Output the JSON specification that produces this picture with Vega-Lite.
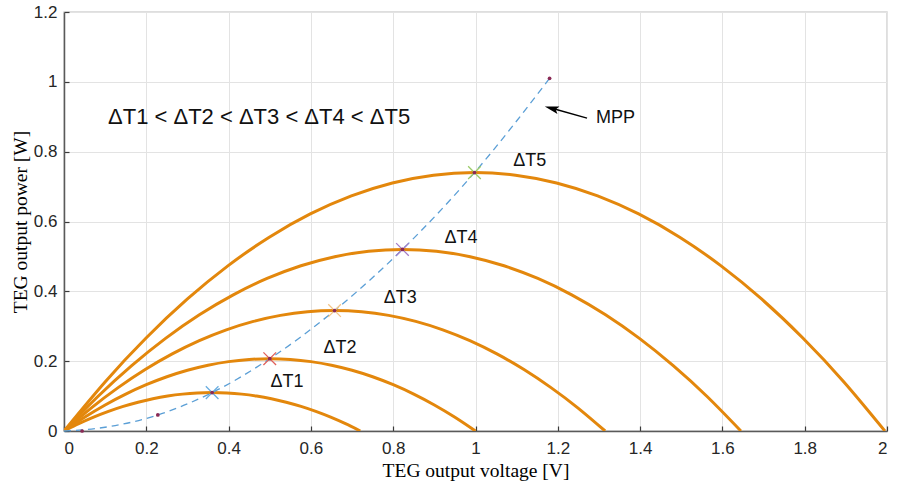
{
  "$schema": "https://vega.github.io/schema/vega-lite/v6.json",
  "width": 823,
  "height": 419,
  "autosize": {"type": "none"},
  "padding": {"left": 64, "top": 12, "right": 12, "bottom": 60},
  "background": "white",
  "config": {
    "view": {"stroke": "#d4d4d4", "strokeWidth": 1.5},
    "axis": {
      "labelFont": "Liberation Sans",
      "labelFontSize": 17,
      "labelColor": "#262626",
      "titleFont": "Liberation Serif",
      "titleFontSize": 19.5,
      "titleFontWeight": "normal",
      "titleColor": "#000000",
      "gridColor": "#e3e3e3",
      "gridWidth": 1,
      "domainColor": "#5a5a5a",
      "domainWidth": 1.5,
      "tickColor": "#3a3a3a",
      "tickWidth": 1.2
    }
  },
  "datasets": {
    "curves": [
      {"c": "T1", "v": 0, "p": 0}, {"c": "T1", "v": 0.036, "p": 0.0209}, {"c": "T1", "v": 0.072, "p": 0.0396}, {"c": "T1", "v": 0.108, "p": 0.0561}, {"c": "T1", "v": 0.144, "p": 0.0704}, {"c": "T1", "v": 0.18, "p": 0.0825}, {"c": "T1", "v": 0.216, "p": 0.0924}, {"c": "T1", "v": 0.252, "p": 0.1001}, {"c": "T1", "v": 0.288, "p": 0.1056}, {"c": "T1", "v": 0.324, "p": 0.1089}, {"c": "T1", "v": 0.36, "p": 0.11}, {"c": "T1", "v": 0.396, "p": 0.1089}, {"c": "T1", "v": 0.432, "p": 0.1056}, {"c": "T1", "v": 0.468, "p": 0.1001}, {"c": "T1", "v": 0.504, "p": 0.0924}, {"c": "T1", "v": 0.54, "p": 0.0825}, {"c": "T1", "v": 0.576, "p": 0.0704}, {"c": "T1", "v": 0.612, "p": 0.0561}, {"c": "T1", "v": 0.648, "p": 0.0396}, {"c": "T1", "v": 0.684, "p": 0.0209}, {"c": "T1", "v": 0.72, "p": 0},
      {"c": "T2", "v": 0, "p": 0}, {"c": "T2", "v": 0.05, "p": 0.0393}, {"c": "T2", "v": 0.1, "p": 0.0745}, {"c": "T2", "v": 0.15, "p": 0.1056}, {"c": "T2", "v": 0.2, "p": 0.1325}, {"c": "T2", "v": 0.25, "p": 0.1553}, {"c": "T2", "v": 0.3, "p": 0.1739}, {"c": "T2", "v": 0.35, "p": 0.1884}, {"c": "T2", "v": 0.4, "p": 0.1987}, {"c": "T2", "v": 0.45, "p": 0.2049}, {"c": "T2", "v": 0.5, "p": 0.207}, {"c": "T2", "v": 0.55, "p": 0.2049}, {"c": "T2", "v": 0.6, "p": 0.1987}, {"c": "T2", "v": 0.65, "p": 0.1884}, {"c": "T2", "v": 0.7, "p": 0.1739}, {"c": "T2", "v": 0.75, "p": 0.1553}, {"c": "T2", "v": 0.8, "p": 0.1325}, {"c": "T2", "v": 0.85, "p": 0.1056}, {"c": "T2", "v": 0.9, "p": 0.0745}, {"c": "T2", "v": 0.95, "p": 0.0393}, {"c": "T2", "v": 1.0, "p": 0},
      {"c": "T3", "v": 0, "p": 0}, {"c": "T3", "v": 0.0658, "p": 0.0656}, {"c": "T3", "v": 0.1315, "p": 0.1242}, {"c": "T3", "v": 0.1973, "p": 0.176}, {"c": "T3", "v": 0.263, "p": 0.2208}, {"c": "T3", "v": 0.3288, "p": 0.2588}, {"c": "T3", "v": 0.3945, "p": 0.2898}, {"c": "T3", "v": 0.4603, "p": 0.314}, {"c": "T3", "v": 0.526, "p": 0.3312}, {"c": "T3", "v": 0.5918, "p": 0.3416}, {"c": "T3", "v": 0.6575, "p": 0.345}, {"c": "T3", "v": 0.7233, "p": 0.3416}, {"c": "T3", "v": 0.789, "p": 0.3312}, {"c": "T3", "v": 0.8548, "p": 0.314}, {"c": "T3", "v": 0.9205, "p": 0.2898}, {"c": "T3", "v": 0.9863, "p": 0.2588}, {"c": "T3", "v": 1.052, "p": 0.2208}, {"c": "T3", "v": 1.1178, "p": 0.176}, {"c": "T3", "v": 1.1835, "p": 0.1242}, {"c": "T3", "v": 1.2493, "p": 0.0656}, {"c": "T3", "v": 1.315, "p": 0},
      {"c": "T4", "v": 0, "p": 0}, {"c": "T4", "v": 0.0823, "p": 0.0988}, {"c": "T4", "v": 0.1645, "p": 0.1872}, {"c": "T4", "v": 0.2468, "p": 0.2652}, {"c": "T4", "v": 0.329, "p": 0.3328}, {"c": "T4", "v": 0.4113, "p": 0.39}, {"c": "T4", "v": 0.4935, "p": 0.4368}, {"c": "T4", "v": 0.5758, "p": 0.4732}, {"c": "T4", "v": 0.658, "p": 0.4992}, {"c": "T4", "v": 0.7403, "p": 0.5148}, {"c": "T4", "v": 0.8225, "p": 0.52}, {"c": "T4", "v": 0.9048, "p": 0.5148}, {"c": "T4", "v": 0.987, "p": 0.4992}, {"c": "T4", "v": 1.0693, "p": 0.4732}, {"c": "T4", "v": 1.1515, "p": 0.4368}, {"c": "T4", "v": 1.2338, "p": 0.39}, {"c": "T4", "v": 1.316, "p": 0.3328}, {"c": "T4", "v": 1.3983, "p": 0.2652}, {"c": "T4", "v": 1.4805, "p": 0.1872}, {"c": "T4", "v": 1.5628, "p": 0.0988}, {"c": "T4", "v": 1.645, "p": 0},
      {"c": "T5", "v": 0, "p": 0}, {"c": "T5", "v": 0.0998, "p": 0.1406}, {"c": "T5", "v": 0.1995, "p": 0.2664}, {"c": "T5", "v": 0.2993, "p": 0.3774}, {"c": "T5", "v": 0.399, "p": 0.4736}, {"c": "T5", "v": 0.4988, "p": 0.555}, {"c": "T5", "v": 0.5985, "p": 0.6216}, {"c": "T5", "v": 0.6983, "p": 0.6734}, {"c": "T5", "v": 0.798, "p": 0.7104}, {"c": "T5", "v": 0.8978, "p": 0.7326}, {"c": "T5", "v": 0.9975, "p": 0.74}, {"c": "T5", "v": 1.0973, "p": 0.7326}, {"c": "T5", "v": 1.197, "p": 0.7104}, {"c": "T5", "v": 1.2968, "p": 0.6734}, {"c": "T5", "v": 1.3965, "p": 0.6216}, {"c": "T5", "v": 1.4963, "p": 0.555}, {"c": "T5", "v": 1.596, "p": 0.4736}, {"c": "T5", "v": 1.6958, "p": 0.3774}, {"c": "T5", "v": 1.7955, "p": 0.2664}, {"c": "T5", "v": 1.8953, "p": 0.1406}, {"c": "T5", "v": 1.995, "p": 0}
    ],
    "mpp": [
      {"v": 0, "p": 0}, {"v": 0.044, "p": 0.003}, {"v": 0.228, "p": 0.046}, {"v": 0.36, "p": 0.11}, {"v": 0.5, "p": 0.207}, {"v": 0.6575, "p": 0.345}, {"v": 0.8225, "p": 0.52}, {"v": 0.9975, "p": 0.74}, {"v": 1.18, "p": 1.01}
    ],
    "peaks": [
      {"c": "T1", "v": 0.36, "p": 0.11},
      {"c": "T2", "v": 0.5, "p": 0.207},
      {"c": "T3", "v": 0.6575, "p": 0.345},
      {"c": "T4", "v": 0.8225, "p": 0.52},
      {"c": "T5", "v": 0.9975, "p": 0.74}
    ],
    "dots": [
      {"v": 0.044, "p": 0.0}, {"v": 0.228, "p": 0.046}, {"v": 0.36, "p": 0.11}, {"v": 0.5, "p": 0.207}, {"v": 0.6575, "p": 0.345}, {"v": 0.8225, "p": 0.52}, {"v": 0.9975, "p": 0.74}, {"v": 1.18, "p": 1.01}
    ],
    "labels": [
      {"t": "ΔT1", "v": 0.542, "p": 0.14},
      {"t": "ΔT2", "v": 0.671, "p": 0.238},
      {"t": "ΔT3", "v": 0.817, "p": 0.381},
      {"t": "ΔT4", "v": 0.965, "p": 0.553},
      {"t": "ΔT5", "v": 1.132, "p": 0.773}
    ]
  },
  "layer": [
    {
      "data": {"name": "curves"},
      "mark": {"type": "line", "color": "#e3870c", "strokeWidth": 3, "interpolate": "natural", "clip": true},
      "encoding": {
        "x": {"field": "v", "type": "quantitative",
          "scale": {"domain": [0, 2], "nice": false},
          "axis": {"title": "TEG output voltage [V]", "values": [0, 0.2, 0.4, 0.6, 0.8, 1, 1.2, 1.4, 1.6, 1.8, 2], "format": "~g", "tickSize": -5, "labelPadding": 14, "titlePadding": 5, "grid": true}},
        "y": {"field": "p", "type": "quantitative",
          "scale": {"domain": [0, 1.2], "nice": false},
          "axis": {"title": "TEG output power [W]", "values": [0, 0.2, 0.4, 0.6, 0.8, 1, 1.2], "format": "~g", "tickSize": -5, "labelPadding": 12, "titlePadding": 3, "grid": true}},
        "detail": {"field": "c"}
      }
    },
    {
      "data": {"name": "mpp"},
      "mark": {"type": "line", "color": "#5b9fd6", "strokeWidth": 1.3, "strokeDash": [7, 5], "interpolate": "monotone"},
      "encoding": {
        "x": {"field": "v", "type": "quantitative"},
        "y": {"field": "p", "type": "quantitative"}
      }
    },
    {
      "data": {"name": "peaks"},
      "mark": {"type": "point", "shape": "M-1,-1L1,1M-1,1L1,-1", "filled": false, "size": 160, "strokeWidth": 1.3, "opacity": 1},
      "encoding": {
        "x": {"field": "v", "type": "quantitative"},
        "y": {"field": "p", "type": "quantitative"},
        "stroke": {"field": "c", "type": "nominal", "legend": null,
          "scale": {"domain": ["T1", "T2", "T3", "T4", "T5"], "range": ["#6aaee0", "#e0605a", "#f2c48a", "#a47cc8", "#9ccc6a"]}}
      }
    },
    {
      "data": {"name": "dots"},
      "mark": {"type": "point", "shape": "circle", "filled": true, "size": 14, "color": "#8a2a55", "opacity": 1},
      "encoding": {
        "x": {"field": "v", "type": "quantitative"},
        "y": {"field": "p", "type": "quantitative"}
      }
    },
    {
      "data": {"name": "labels"},
      "mark": {"type": "text", "font": "Liberation Sans", "fontSize": 18, "color": "#111111", "align": "center", "baseline": "middle"},
      "encoding": {
        "x": {"field": "v", "type": "quantitative"},
        "y": {"field": "p", "type": "quantitative"},
        "text": {"field": "t"}
      }
    },
    {
      "data": {"values": [{"t": "ΔT1 < ΔT2 < ΔT3 < ΔT4 < ΔT5", "v": 0.107, "p": 0.899}]},
      "mark": {"type": "text", "font": "Liberation Sans", "fontSize": 22, "color": "#111111", "align": "left", "baseline": "middle"},
      "encoding": {
        "x": {"field": "v", "type": "quantitative"},
        "y": {"field": "p", "type": "quantitative"},
        "text": {"field": "t"}
      }
    },
    {
      "data": {"values": [{"t": "MPP", "v": 1.293, "p": 0.896}]},
      "mark": {"type": "text", "font": "Liberation Sans", "fontSize": 18, "color": "#111111", "align": "left", "baseline": "middle"},
      "encoding": {
        "x": {"field": "v", "type": "quantitative"},
        "y": {"field": "p", "type": "quantitative"},
        "text": {"field": "t"}
      }
    },
    {
      "data": {"values": [{"v": 1.19, "p": 0.923, "v2": 1.271, "p2": 0.896}]},
      "mark": {"type": "rule", "color": "#000000", "strokeWidth": 1.5},
      "encoding": {
        "x": {"field": "v", "type": "quantitative"},
        "y": {"field": "p", "type": "quantitative"},
        "x2": {"field": "v2"},
        "y2": {"field": "p2"}
      }
    },
    {
      "data": {"values": [{"v": 1.185, "p": 0.924}]},
      "mark": {"type": "point", "shape": "M0,-1L0.55,1L0,0.6L-0.55,1Z", "angle": 285, "filled": true, "size": 200, "color": "#000000", "opacity": 1},
      "encoding": {
        "x": {"field": "v", "type": "quantitative"},
        "y": {"field": "p", "type": "quantitative"}
      }
    }
  ]
}
